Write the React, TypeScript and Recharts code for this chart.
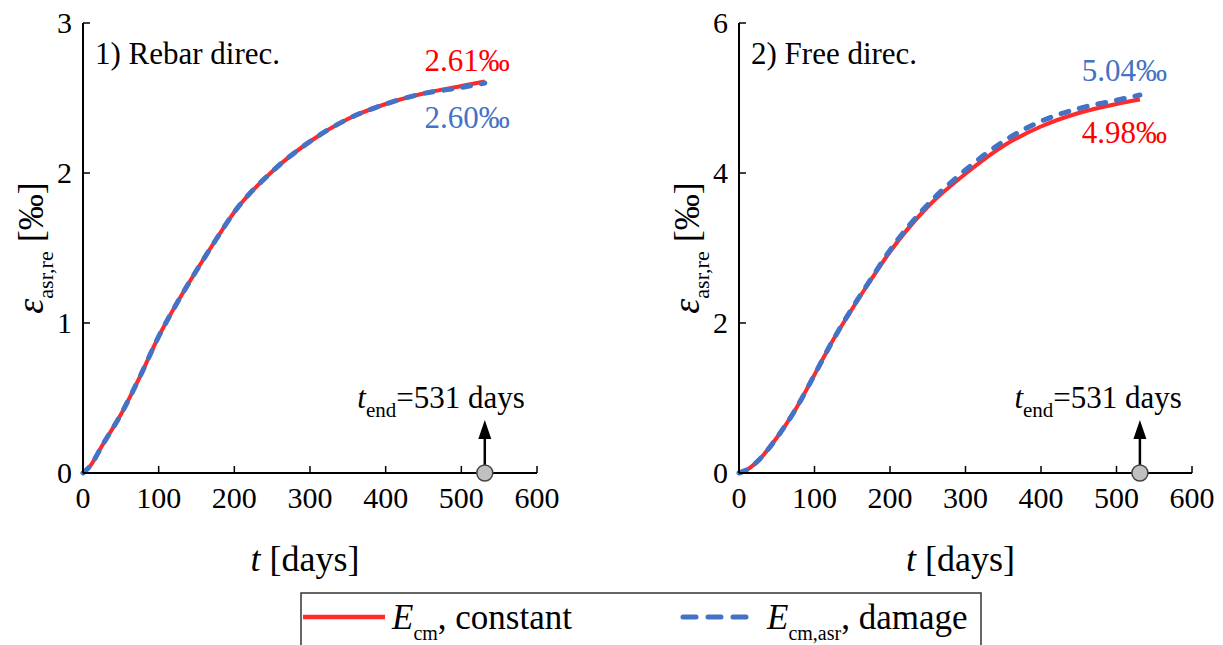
import React from "react";
import { LineChart, Line, XAxis, YAxis, ReferenceDot } from "recharts";

// time grid in days, shared by both panels
const tDays = [0, 10, 25, 50, 75, 100, 125, 150, 175, 200, 250, 300, 350, 400, 450, 500, 531];

// 1) rebar direction, strain in permille
const rebarConst = [0, 0.05, 0.18, 0.39, 0.64, 0.91, 1.14, 1.35, 1.55, 1.74, 2.01, 2.21, 2.36, 2.46, 2.53, 2.58, 2.61];
const rebarDamage = [0, 0.05, 0.18, 0.39, 0.64, 0.91, 1.14, 1.35, 1.55, 1.74, 2.01, 2.21, 2.36, 2.46, 2.53, 2.57, 2.6];

// 2) free direction, strain in permille
const freeConst = [0, 0.04, 0.16, 0.47, 0.85, 1.31, 1.78, 2.19, 2.58, 2.95, 3.55, 3.99, 4.36, 4.62, 4.8, 4.92, 4.98];
const freeDamage = [0, 0.04, 0.16, 0.47, 0.85, 1.31, 1.78, 2.2, 2.59, 2.97, 3.58, 4.04, 4.42, 4.69, 4.86, 4.97, 5.04];

const xTicks = [0, 100, 200, 300, 400, 500, 600];
const rebarTicks = [0, 1, 2, 3];
const freeTicks = [0, 2, 4, 6];
const tEnd = 531;

const RED = "#ff2a2a";
const BLUE = "#4472c4";
const FONT = "'Liberation Serif', 'Times New Roman', serif";
const TICK_LEN = 7;

const txt = { fontFamily: FONT };

const BottomTick = (props: any) => {
  const { x, y, payload } = props;
  return (
    <g>
      <line x1={x} x2={x} y1={y} y2={y - TICK_LEN} stroke="#000" strokeWidth={1.5} />
      <text x={x} y={y + 35} textAnchor="middle" style={txt} fontSize={30} fill="#000">
        {payload.value}
      </text>
    </g>
  );
};

const TopTick = (props: any) => {
  const { x, y } = props;
  return <line x1={x} x2={x} y1={y} y2={y + TICK_LEN} stroke="#000" strokeWidth={1.5} />;
};

const LeftTick = (props: any) => {
  const { x, y, payload } = props;
  return (
    <g>
      <line x1={x} x2={x + TICK_LEN} y1={y} y2={y} stroke="#000" strokeWidth={1.5} />
      <text x={x - 11} y={y + 10} textAnchor="end" style={txt} fontSize={30} fill="#000">
        {payload.value}
      </text>
    </g>
  );
};

const RightTick = (props: any) => {
  const { x, y } = props;
  return <line x1={x} x2={x - TICK_LEN} y1={y} y2={y} stroke="#000" strokeWidth={1.5} />;
};

const YTitle = (props: any) => {
  const { viewBox } = props;
  const x = viewBox.x + viewBox.width - 40;
  const y = viewBox.y + viewBox.height / 2;
  return (
    <text
      transform={`translate(${x},${y}) rotate(-90)`}
      textAnchor="middle"
      style={txt}
      fontSize={36}
      fill="#000"
    >
      <tspan fontStyle="italic" fontSize={38}>ε</tspan>
      <tspan fontSize={22} dy={10}>asr,re</tspan>
      <tspan dy={-10}> [‰]</tspan>
    </text>
  );
};

const XTitle = (props: any) => {
  const { viewBox } = props;
  return (
    <text
      x={viewBox.x + viewBox.width / 2 - 5}
      y={viewBox.y + 98}
      textAnchor="middle"
      style={txt}
      fontSize={36}
      fill="#000"
    >
      <tspan fontStyle="italic">t</tspan>
      <tspan> [days]</tspan>
    </text>
  );
};

// grey dot on the time axis with an arrow and the end-time note
const EndMarker = (props: any) => {
  const { cx, cy, dx } = props;
  return (
    <g>
      <line x1={cx} x2={cx} y1={cy - 8} y2={cy - 36} stroke="#000" strokeWidth={2.5} />
      <polygon points={`${cx},${cy - 53} ${cx - 6.5},${cy - 34} ${cx + 6.5},${cy - 34}`} fill="#000" />
      <circle cx={cx} cy={cy} r={8} fill="#c0c0c0" stroke="#444" strokeWidth={1.5} />
      <text x={cx + dx} y={cy - 65} textAnchor="end" style={txt} fontSize={31} fill="#000">
        <tspan fontStyle="italic">t</tspan>
        <tspan fontSize={21} dy={9}>end</tspan>
        <tspan dy={-9}>={tEnd} days</tspan>
      </text>
    </g>
  );
};

const valueLabel = (text: string, color: string, dx: number, dy: number) => (props: any) => (
  <text
    x={props.cx + dx}
    y={props.cy + dy}
    textAnchor="end"
    style={txt}
    fontSize={31}
    fill={color}
  >
    {text}
  </text>
);

const panelTitle = (text: string) => (props: any) => (
  <text x={props.cx + 12} y={props.cy + 41} style={txt} fontSize={31} fill="#000">
    {text}
  </text>
);

const fmt = (v: number) => `${v.toFixed(2)}‰`;
const last = (arr: number[]) => arr[arr.length - 1];

interface PanelProps {
  left: number;
  width: number;
  axisWidth: number;
  rightMargin: number;
  title: string;
  constVals: number[];
  damageVals: number[];
  yTicks: number[];
  constDy: number;
  damageDy: number;
  labelDx: number;
  markerDx: number;
}

const Panel = (p: PanelProps) => {
  const data = tDays.map((t, i) => ({ t, constant: p.constVals[i], damage: p.damageVals[i] }));
  const yMax = p.yTicks[p.yTicks.length - 1];
  const cEnd = last(p.constVals);
  const dEnd = last(p.damageVals);
  return (
    <div style={{ position: "absolute", left: p.left, top: 0 }}>
      <LineChart width={p.width} height={645} data={data} margin={{ top: 23, right: p.rightMargin, bottom: 0, left: 0 }}>
        <XAxis
          dataKey="t"
          type="number"
          domain={[0, 600]}
          ticks={xTicks}
          interval={0}
          height={172}
          tickSize={0}
          tickMargin={0}
          tickLine={false}
          tick={<BottomTick />}
          axisLine={{ stroke: "#000", strokeWidth: 2 }}
          label={<XTitle />}
        />
        <XAxis
          xAxisId="top"
          orientation="top"
          dataKey="t"
          type="number"
          domain={[0, 600]}
          ticks={xTicks}
          interval={0}
          height={0}
          tickSize={0}
          tickMargin={0}
          tickLine={false}
          tick={<TopTick />}
          axisLine={{ stroke: "#000", strokeWidth: 2 }}
        />
        <YAxis
          type="number"
          domain={[0, yMax]}
          ticks={p.yTicks}
          interval={0}
          width={p.axisWidth}
          tickSize={0}
          tickMargin={0}
          tickLine={false}
          tick={<LeftTick />}
          axisLine={{ stroke: "#000", strokeWidth: 2 }}
          label={<YTitle />}
        />
        <YAxis
          yAxisId="right"
          orientation="right"
          type="number"
          domain={[0, yMax]}
          ticks={p.yTicks}
          interval={0}
          width={0}
          tickSize={0}
          tickMargin={0}
          tickLine={false}
          tick={<RightTick />}
          axisLine={{ stroke: "#000", strokeWidth: 2 }}
        />
        <Line
          type="monotone"
          dataKey="constant"
          stroke={RED}
          strokeWidth={4}
          dot={false}
          isAnimationActive={false}
        />
        <Line
          type="monotone"
          dataKey="damage"
          stroke={BLUE}
          strokeWidth={5}
          strokeDasharray="8 11"
          strokeLinecap="round"
          dot={false}
          isAnimationActive={false}
        />
        <ReferenceDot x={0} y={yMax} shape={panelTitle(p.title)} />
        <ReferenceDot x={tEnd} y={cEnd} shape={valueLabel(fmt(cEnd), "#ff0000", p.labelDx, p.constDy)} />
        <ReferenceDot x={tEnd} y={dEnd} shape={valueLabel(fmt(dEnd), BLUE, p.labelDx, p.damageDy)} />
        <ReferenceDot x={tEnd} y={0} shape={<EndMarker dx={p.markerDx} />} />
      </LineChart>
    </div>
  );
};

const legendItems = [
  { sub: "cm", text: ", constant", color: RED, dash: undefined as string | undefined, x: 303 },
  { sub: "cm,asr", text: ", damage", color: BLUE, dash: "13 12", x: 681 },
];

const LegendBox = () => (
  <svg width={1223} height={645} style={{ position: "absolute", left: 0, top: 0, pointerEvents: "none" }}>
    <rect x={301} y={593} width={680} height={70} fill="#fff" stroke="#333" strokeWidth={1.5} />
    {legendItems.map((it) => (
      <g key={it.sub}>
        <line
          x1={it.x + (it.dash ? 2 : 0)}
          x2={it.x + (it.dash ? 67 : 82)}
          y1={617}
          y2={617}
          stroke={it.color}
          strokeWidth={it.dash ? 5 : 4.5}
          strokeDasharray={it.dash}
          strokeLinecap={it.dash ? "round" : "butt"}
        />
        <text x={it.x + (it.dash ? 86 : 89)} y={629} style={txt} fontSize={35} fill="#000">
          <tspan fontStyle="italic">E</tspan>
          <tspan fontSize={20} dy={11}>{it.sub}</tspan>
          <tspan dy={-11}>{it.text}</tspan>
        </text>
      </g>
    ))}
  </svg>
);

export default function App() {
  return (
    <div style={{ position: "absolute", left: 0, top: 0, width: 1223, height: 645, background: "#fff", overflow: "hidden" }}>
      <Panel
        left={0}
        width={570}
        axisWidth={83}
        rightMargin={33}
        title="1) Rebar direc."
        constVals={rebarConst}
        damageVals={rebarDamage}
        yTicks={rebarTicks}
        constDy={-11}
        damageDy={45}
        labelDx={25}
        markerDx={40}
      />
      <Panel
        left={620}
        width={603}
        axisWidth={119}
        rightMargin={31}
        title="2) Free direc."
        constVals={freeConst}
        damageVals={freeDamage}
        yTicks={freeTicks}
        constDy={43}
        damageDy={-14}
        labelDx={27}
        markerDx={42}
      />
      <LegendBox />
    </div>
  );
}
